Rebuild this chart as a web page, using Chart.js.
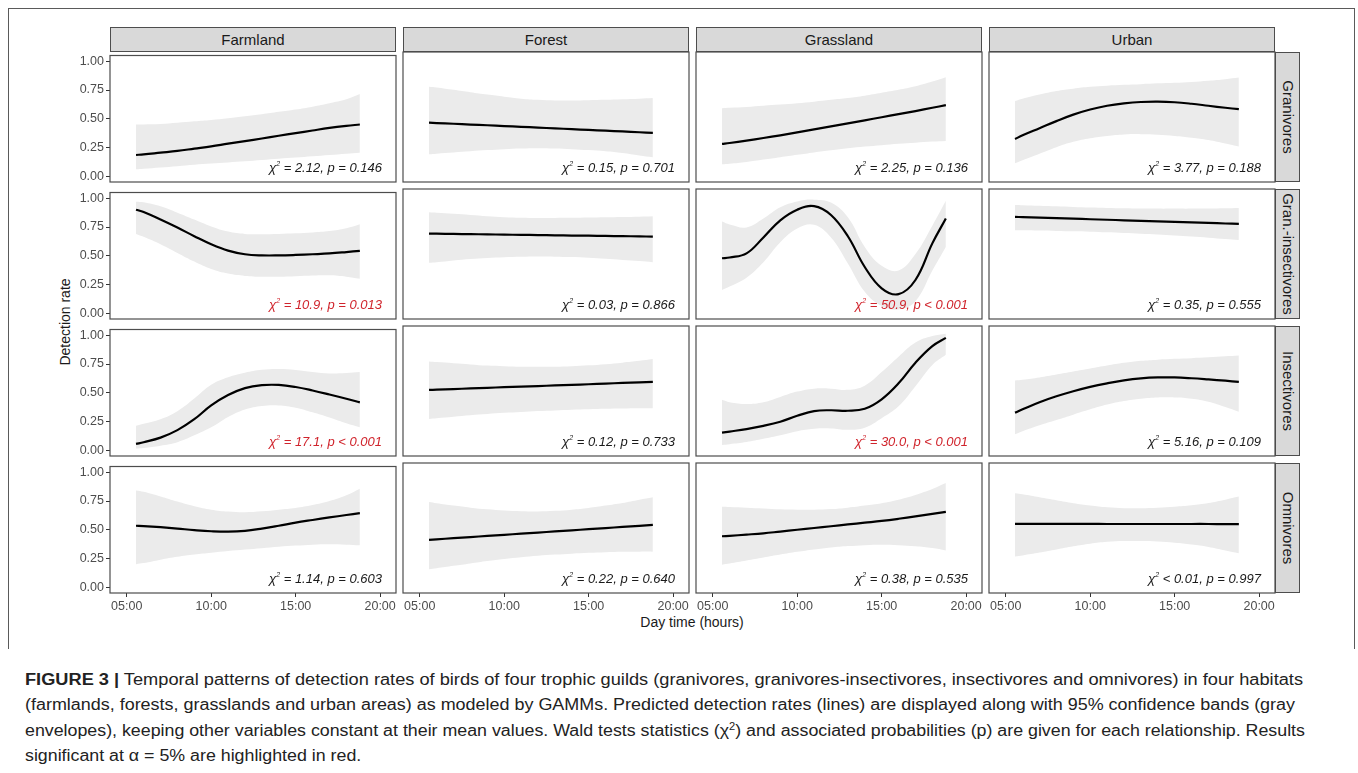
<!DOCTYPE html>
<html>
<head>
<meta charset="utf-8">
<script src="https://cdn.jsdelivr.net/npm/chart.js@4.4.1/dist/chart.umd.min.js"></script>
<style>
  body { margin: 0; background: #fff; font-family: "Liberation Sans", Arial, sans-serif; }
  #page { position: relative; width: 1358px; height: 773px; overflow: hidden; background: #fff; }
  #frame { position: absolute; left: 8px; top: 8px; width: 1345px; height: 640px; border: 1.5px solid #5a5a5a; border-bottom: none; }
  .panel { position: absolute; }
  .strip-top { position: absolute; height: 25px; background: #d9d9d9; border: 1.2px solid #4d4d4d; box-sizing: border-box; text-align: center; line-height: 23px; font-size: 15px; color: #1a1a1a; }
  .strip-right { position: absolute; width: 25px; background: #d9d9d9; border: 1.2px solid #4d4d4d; box-sizing: border-box; }
  .strip-right span { position: absolute; left: 50%; top: 50%; transform: translate(-50%, -50%) rotate(90deg); font-size: 15px; color: #1a1a1a; white-space: nowrap; }
  .stat { position: absolute; font-style: italic; font-size: 13px; color: #1a1a1a; white-space: nowrap; }
  .stat.sig { color: #d0242c; }
  .stat sup { font-size: 7px; vertical-align: 6px; line-height: 0; }
  #ytitle { position: absolute; left: 65px; top: 322px; transform: translate(-50%, -50%) rotate(-90deg); font-size: 14px; color: #1a1a1a; white-space: nowrap; }
  #xtitle { position: absolute; left: 692px; top: 622px; transform: translate(-50%, -50%); font-size: 14px; color: #1a1a1a; white-space: nowrap; }
  .cap-line { position: absolute; left: 25px; font-size: 16px; line-height: 20px; color: #222; white-space: nowrap; transform-origin: 0 50%; }
  .cap-line sup { font-size: 10px; line-height: 0; }
</style>
</head>
<body>
<div id="page">
  <div id="frame"></div>
  <div id="ytitle">Detection rate</div>
  <div id="xtitle">Day time (hours)</div>
  <div class="cap-line" style="top:670px" data-w="1278"><b>FIGURE 3 |</b> Temporal patterns of detection rates of birds of four trophic guilds (granivores, granivores-insectivores, insectivores and omnivores) in four habitats</div>
  <div class="cap-line" style="top:695px" data-w="1270">(farmlands, forests, grasslands and urban areas) as modeled by GAMMs. Predicted detection rates (lines) are displayed along with 95% confidence bands (gray</div>
  <div class="cap-line" style="top:721px" data-w="1280">envelopes), keeping other variables constant at their mean values. Wald tests statistics (&chi;<sup>2</sup>) and associated probabilities (p) are given for each relationship. Results</div>
  <div class="cap-line" style="top:746px">significant at &alpha; = 5% are highlighted in red.</div>
</div>
<script>
// categories
const habitats = ["Farmland", "Forest", "Grassland", "Urban"]
const guilds = ["Granivores", "Gran.-insectivores", "Insectivores", "Omnivores"]
const xTicks = [5, 10, 15, 20]
const yTicks = [0, 0.25, 0.5, 0.75, 1]

// time of day (hours) at which the fitted curves are read
const hours = [5.55, 6, 7, 8, 9, 10, 11, 12, 13, 14, 15, 16, 17, 18, 18.8]

// Granivores: Farmland, Forest, Grassland, Urban
const granivoresFit = [
  [0.185, 0.19, 0.205, 0.22, 0.24, 0.26, 0.283, 0.305, 0.328, 0.352, 0.375, 0.398, 0.42, 0.438, 0.45],
  [0.452, 0.449, 0.443, 0.436, 0.43, 0.423, 0.417, 0.41, 0.404, 0.397, 0.391, 0.384, 0.378, 0.371, 0.366],
  [0.272, 0.28, 0.3, 0.322, 0.345, 0.37, 0.395, 0.42, 0.446, 0.472, 0.498, 0.524, 0.55, 0.578, 0.6],
  [0.314, 0.345, 0.405, 0.465, 0.52, 0.563, 0.595, 0.615, 0.627, 0.63, 0.625, 0.612, 0.595, 0.578, 0.566],
]
const granivoresUpper = [
  [0.45, 0.451, 0.455, 0.465, 0.478, 0.49, 0.505, 0.522, 0.54, 0.56, 0.58, 0.605, 0.635, 0.67, 0.715],
  [0.755, 0.75, 0.73, 0.71, 0.69, 0.672, 0.655, 0.645, 0.64, 0.64, 0.642, 0.645, 0.65, 0.655, 0.66],
  [0.575, 0.578, 0.585, 0.595, 0.605, 0.617, 0.63, 0.645, 0.66, 0.68, 0.705, 0.73, 0.76, 0.8, 0.837],
  [0.636, 0.655, 0.69, 0.72, 0.74, 0.755, 0.765, 0.772, 0.778, 0.785, 0.79, 0.797, 0.807, 0.82, 0.834],
]
const granivoresLower = [
  [0.06, 0.065, 0.077, 0.088, 0.1, 0.11, 0.12, 0.13, 0.142, 0.153, 0.163, 0.174, 0.185, 0.196, 0.205],
  [0.185, 0.19, 0.2, 0.21, 0.22, 0.228, 0.233, 0.235, 0.233, 0.228, 0.22, 0.21, 0.195, 0.175, 0.16],
  [0.1, 0.105, 0.12, 0.14, 0.16, 0.18, 0.2, 0.218, 0.235, 0.25, 0.262, 0.273, 0.283, 0.292, 0.297],
  [0.108, 0.135, 0.19, 0.245, 0.29, 0.32, 0.34, 0.352, 0.355, 0.35, 0.34, 0.325, 0.305, 0.275, 0.25],
]

// Granivores-insectivores
const granInsectFit = [
  [0.9, 0.88, 0.815, 0.745, 0.67, 0.6, 0.545, 0.513, 0.503, 0.503, 0.507, 0.513, 0.52, 0.532, 0.543],
  [0.673, 0.672, 0.67, 0.668, 0.666, 0.664, 0.662, 0.66, 0.658, 0.656, 0.655, 0.653, 0.651, 0.649, 0.647],
  [0.464, 0.47, 0.505, 0.64, 0.785, 0.875, 0.905, 0.83, 0.65, 0.39, 0.21, 0.16, 0.28, 0.59, 0.8],
  [0.814, 0.812, 0.808, 0.803, 0.799, 0.794, 0.79, 0.785, 0.781, 0.776, 0.772, 0.767, 0.763, 0.758, 0.755],
]
const granInsectUpper = [
  [0.97, 0.965, 0.93, 0.875, 0.815, 0.755, 0.71, 0.69, 0.688, 0.69, 0.695, 0.703, 0.715, 0.74, 0.775],
  [0.854, 0.85, 0.84, 0.83, 0.82, 0.812, 0.807, 0.805, 0.805, 0.806, 0.808, 0.81, 0.813, 0.816, 0.82],
  [0.775, 0.75, 0.725, 0.8, 0.895, 0.945, 0.96, 0.935, 0.81, 0.56, 0.4, 0.36, 0.5, 0.74, 0.95],
  [0.915, 0.913, 0.908, 0.903, 0.898, 0.893, 0.89, 0.887, 0.885, 0.884, 0.884, 0.884, 0.885, 0.887, 0.89],
]
const granInsectLower = [
  [0.69, 0.665, 0.6, 0.525, 0.45, 0.385, 0.345, 0.325, 0.318, 0.318, 0.322, 0.328, 0.33, 0.318, 0.3],
  [0.425, 0.43, 0.445, 0.457, 0.466, 0.472, 0.476, 0.478, 0.477, 0.474, 0.468, 0.46, 0.45, 0.44, 0.43],
  [0.196, 0.225, 0.3, 0.43, 0.6, 0.715, 0.747, 0.64, 0.42, 0.18, 0.06, 0.03, 0.1, 0.36, 0.56],
  [0.7, 0.7, 0.698, 0.695, 0.692, 0.688, 0.683, 0.678, 0.672, 0.665, 0.657, 0.648, 0.638, 0.627, 0.618],
]

// Insectivores
const insectFit = [
  [0.055, 0.07, 0.11, 0.175, 0.27, 0.39, 0.48, 0.54, 0.566, 0.568, 0.55, 0.52, 0.485, 0.448, 0.416],
  [0.509, 0.511, 0.516, 0.522, 0.527, 0.532, 0.537, 0.542, 0.547, 0.552, 0.557, 0.563, 0.568, 0.573, 0.577],
  [0.148, 0.157, 0.178, 0.205, 0.24, 0.29, 0.33, 0.337, 0.333, 0.35, 0.43, 0.565, 0.74, 0.88, 0.95],
  [0.317, 0.345, 0.405, 0.455, 0.498, 0.535, 0.565, 0.59, 0.607, 0.615, 0.615, 0.608, 0.598, 0.587, 0.577],
]
const insectUpper = [
  [0.213, 0.23, 0.27, 0.34, 0.45, 0.57, 0.635, 0.675, 0.7, 0.707, 0.698, 0.68, 0.668, 0.672, 0.68],
  [0.75, 0.745, 0.735, 0.725, 0.715, 0.71, 0.706, 0.705, 0.706, 0.71, 0.717, 0.727, 0.74, 0.755, 0.77],
  [0.425, 0.405, 0.39, 0.405, 0.45, 0.495, 0.52, 0.52, 0.51, 0.545, 0.66, 0.79, 0.91, 0.965, 0.984],
  [0.588, 0.595, 0.615, 0.64, 0.665, 0.69, 0.715, 0.738, 0.755, 0.765, 0.772, 0.778, 0.785, 0.793, 0.8],
]
const insectLower = [
  [0.015, 0.02, 0.04, 0.07, 0.13, 0.2, 0.29, 0.355, 0.385, 0.39, 0.37, 0.33, 0.285, 0.235, 0.2],
  [0.264, 0.27, 0.283, 0.295, 0.305, 0.315, 0.322, 0.33, 0.336, 0.341, 0.345, 0.349, 0.351, 0.353, 0.354],
  [0.043, 0.05, 0.068, 0.095, 0.125, 0.16, 0.18, 0.183, 0.172, 0.19, 0.27, 0.37, 0.54, 0.72, 0.806],
  [0.134, 0.16, 0.21, 0.255, 0.3, 0.345, 0.385, 0.415, 0.435, 0.445, 0.445, 0.435, 0.41, 0.365, 0.325],
]

// Omnivores
const omniFit = [
  [0.535, 0.532, 0.522, 0.51, 0.497, 0.487, 0.483, 0.49, 0.51, 0.535, 0.562, 0.585, 0.607, 0.628, 0.645],
  [0.4, 0.404, 0.414, 0.423, 0.433, 0.442, 0.452, 0.461, 0.471, 0.48, 0.49, 0.499, 0.509, 0.518, 0.526],
  [0.43, 0.434, 0.444, 0.455, 0.47, 0.485, 0.5, 0.515, 0.53, 0.545, 0.56, 0.578, 0.598, 0.62, 0.637],
  [0.535, 0.535, 0.535, 0.535, 0.535, 0.535, 0.534, 0.534, 0.534, 0.534, 0.534, 0.534, 0.534, 0.533, 0.533],
]
const omniUpper = [
  [0.842, 0.83, 0.79, 0.745, 0.705, 0.675, 0.658, 0.652, 0.66, 0.675, 0.69, 0.715, 0.75, 0.8, 0.857],
  [0.72, 0.71, 0.69, 0.672, 0.658, 0.648, 0.642, 0.64, 0.645, 0.655, 0.67, 0.69, 0.712, 0.74, 0.76],
  [0.68, 0.678, 0.672, 0.665, 0.658, 0.655, 0.655, 0.66, 0.672, 0.69, 0.71, 0.74, 0.78, 0.83, 0.88],
  [0.795, 0.785, 0.76, 0.735, 0.71, 0.69, 0.675, 0.668, 0.668, 0.672, 0.68, 0.692, 0.712, 0.74, 0.766],
]
const omniLower = [
  [0.2, 0.21, 0.24, 0.265, 0.285, 0.3, 0.315, 0.328, 0.34, 0.352, 0.362, 0.37, 0.373, 0.37, 0.365],
  [0.15, 0.16, 0.18, 0.2, 0.22, 0.238, 0.253, 0.265, 0.275, 0.283, 0.29, 0.295, 0.298, 0.3, 0.3],
  [0.19, 0.2, 0.225, 0.25, 0.275, 0.298, 0.318, 0.335, 0.347, 0.355, 0.358, 0.355, 0.345, 0.33, 0.31],
  [0.258, 0.268, 0.292, 0.318, 0.345, 0.367, 0.383, 0.39, 0.39, 0.385, 0.375, 0.36, 0.34, 0.31, 0.286],
]

// Wald test labels, row by row (guild), then habitat
const chiLabels = [
  "= 2.12", "= 0.15", "= 2.25", "= 3.77",
  "= 10.9", "= 0.03", "= 50.9", "= 0.35",
  "= 17.1", "= 0.12", "= 30.0", "= 5.16",
  "= 1.14", "= 0.22", "= 0.38", "< 0.01",
]
const pLabels = [
  "= 0.146", "= 0.701", "= 0.136", "= 0.188",
  "= 0.013", "= 0.866", "< 0.001", "= 0.555",
  "< 0.001", "= 0.733", "< 0.001", "= 0.109",
  "= 0.603", "= 0.640", "= 0.535", "= 0.997",
]
const significant = [
  false, false, false, false,
  true, false, true, false,
  true, false, true, false,
  false, false, false, false,
]

const fits = [granivoresFit, granInsectFit, insectFit, omniFit]
const uppers = [granivoresUpper, granInsectUpper, insectUpper, omniUpper]
const lowers = [granivoresLower, granInsectLower, insectLower, omniLower]

// layout of the facet grid (page pixels)
const colLeft = [110, 403, 696, 989]
const rowTop = [52, 189, 326, 463]
const panelW = 286
const panelH = 130
const axisW = 52
const axisH = 28
const padTop = 6
const padRight = 20

const page = document.getElementById("page")

// box round each panel, drawn on top of the band and line
const panelBox = {
  id: "panelBox",
  afterDatasetsDraw(chart) {
    const { ctx, chartArea } = chart
    ctx.save()
    ctx.strokeStyle = "#4d4d4d"
    ctx.lineWidth = 1.2
    ctx.strokeRect(chartArea.left, chartArea.top, chartArea.right - chartArea.left, chartArea.bottom - chartArea.top)
    ctx.restore()
  },
}

function toPoints(values) {
  return values.map((v, i) => ({ x: hours[i], y: v }))
}

function makePanel(r, c) {
  const holder = document.createElement("div")
  holder.className = "panel"
  const w = panelW + axisW + padRight
  const h = panelH + axisH + padTop
  holder.style.left = colLeft[c] - axisW + "px"
  holder.style.top = rowTop[r] - padTop + "px"
  holder.style.width = w + "px"
  holder.style.height = h + "px"
  const canvas = document.createElement("canvas")
  canvas.width = w
  canvas.height = h
  holder.appendChild(canvas)
  page.appendChild(holder)

  const showY = c === 0
  const showX = r === 3

  // dataset 0 is drawn last, so the fitted line sits above the band
  new Chart(canvas, {
    type: "line",
    data: {
      datasets: [
        {
          data: toPoints(fits[r][c]),
          borderColor: "#000000",
          borderWidth: 2.2,
          pointRadius: 0,
          fill: false,
          tension: 0.4,
        },
        {
          data: toPoints(uppers[r][c]),
          borderColor: "rgba(0,0,0,0)",
          borderWidth: 0,
          pointRadius: 0,
          backgroundColor: "#ebebeb",
          fill: "+1",
          tension: 0.4,
        },
        {
          data: toPoints(lowers[r][c]),
          borderColor: "rgba(0,0,0,0)",
          borderWidth: 0,
          pointRadius: 0,
          fill: false,
          tension: 0.4,
        },
      ],
    },
    options: {
      responsive: false,
      animation: false,
      events: [],
      layout: { padding: { top: padTop, right: padRight, left: 0, bottom: 0 } },
      plugins: { legend: { display: false }, tooltip: { enabled: false } },
      scales: {
        x: {
          type: "linear",
          min: 4.01,
          max: 20.94,
          afterBuildTicks: (scale) => { scale.ticks = xTicks.map((v) => ({ value: v })) },
          afterFit: (scale) => { scale.height = axisH },
          border: { display: false },
          grid: { display: showX, drawOnChartArea: false, drawTicks: true, tickLength: 4, color: "#333333" },
          ticks: {
            display: showX,
            padding: 2,
            color: "#4d4d4d",
            font: { family: "Liberation Sans", size: 12.5 },
            maxRotation: 0,
            callback: (v) => String(v).padStart(2, "0") + ":00",
          },
        },
        y: {
          min: -0.05,
          max: 1.05,
          afterBuildTicks: (scale) => { scale.ticks = yTicks.map((v) => ({ value: v })) },
          afterFit: (scale) => { scale.width = axisW },
          border: { display: false },
          grid: { display: showY, drawOnChartArea: false, drawTicks: true, tickLength: 4, color: "#333333" },
          ticks: {
            display: showY,
            padding: 2,
            color: "#4d4d4d",
            font: { family: "Liberation Sans", size: 12.5 },
            callback: (v) => v.toFixed(2),
          },
        },
      },
    },
    plugins: [panelBox],
  })

  // Wald test annotation
  const k = r * 4 + c
  const stat = document.createElement("div")
  stat.className = "stat" + (significant[k] ? " sig" : "")
  stat.innerHTML = "&chi;<sup>2</sup> " + chiLabels[k] + ", p " + pLabels[k]
  stat.style.right = 1358 - (colLeft[c] + panelW - 14) + "px"
  stat.style.top = rowTop[r] + panelH - 22 + "px"
  page.appendChild(stat)
}

habitats.forEach((name, c) => {
  const s = document.createElement("div")
  s.className = "strip-top"
  s.style.left = colLeft[c] + "px"
  s.style.top = "27px"
  s.style.width = panelW + "px"
  s.textContent = name
  page.appendChild(s)
})

guilds.forEach((name, r) => {
  const s = document.createElement("div")
  s.className = "strip-right"
  s.style.left = colLeft[3] + panelW + "px"
  s.style.top = rowTop[r] + "px"
  s.style.height = panelH + "px"
  const t = document.createElement("span")
  t.textContent = name
  s.appendChild(t)
  page.appendChild(s)
})

for (let r = 0; r < 4; r++) {
  for (let c = 0; c < 4; c++) {
    makePanel(r, c)
  }
}

// stretch the full caption lines to the column width; the last line keeps the same stretch
let lastScale = 1
document.querySelectorAll(".cap-line").forEach((line) => {
  const natural = line.getBoundingClientRect().width
  if (line.dataset.w) lastScale = Number(line.dataset.w) / natural
  line.style.transform = "scaleX(" + lastScale.toFixed(4) + ")"
})
</script>
</body>
</html>
